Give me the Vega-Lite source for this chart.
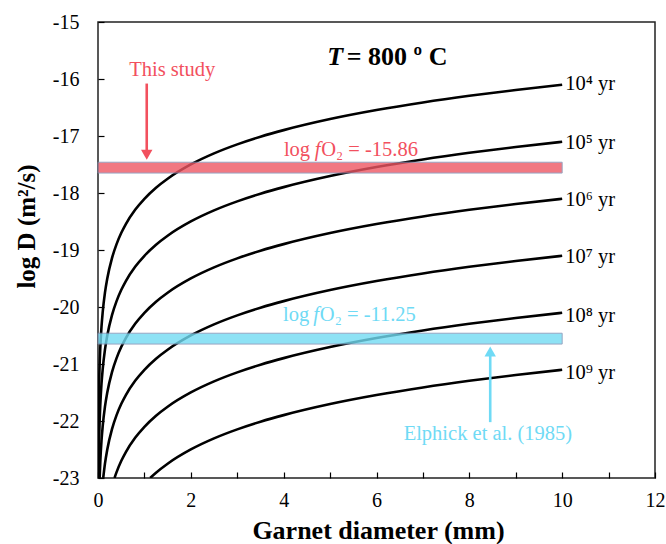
{
  "$schema": "https://vega.github.io/schema/vega-lite/v6.json",
  "width": 557,
  "height": 456,
  "autosize": {"type": "none"},
  "padding": {"left": 98, "top": 22, "right": 11, "bottom": 66},
  "background": "white",
  "config": {
    "view": {"stroke": "#222", "strokeWidth": 1.5},
    "font": "Liberation Serif",
    "axis": {"grid": false, "domain": false, "labelFont": "Liberation Serif", "titleFont": "Liberation Serif", "labelColor": "#000", "titleColor": "#000", "tickColor": "#000", "tickWidth": 1.2}
  },
  "layer": [
    {
      "data": {"values": [
        {"n": 4, "d": 0.00355, "logD": -23}, {"n": 4, "d": 0.005, "logD": -22.703}, {"n": 4, "d": 0.01, "logD": -22.101}, {"n": 4, "d": 0.02, "logD": -21.499}, {"n": 4, "d": 0.03, "logD": -21.147}, {"n": 4, "d": 0.05, "logD": -20.703}, {"n": 4, "d": 0.075, "logD": -20.351}, {"n": 4, "d": 0.1, "logD": -20.101}, {"n": 4, "d": 0.15, "logD": -19.749}, {"n": 4, "d": 0.2, "logD": -19.499}, {"n": 4, "d": 0.3, "logD": -19.147}, {"n": 4, "d": 0.4, "logD": -18.897}, {"n": 4, "d": 0.5, "logD": -18.703}, {"n": 4, "d": 0.6, "logD": -18.545}, {"n": 4, "d": 0.8, "logD": -18.295}, {"n": 4, "d": 1, "logD": -18.101}, {"n": 4, "d": 1.25, "logD": -17.907}, {"n": 4, "d": 1.5, "logD": -17.749}, {"n": 4, "d": 2, "logD": -17.499}, {"n": 4, "d": 2.5, "logD": -17.305}, {"n": 4, "d": 3, "logD": -17.147}, {"n": 4, "d": 3.5, "logD": -17.013}, {"n": 4, "d": 4, "logD": -16.897}, {"n": 4, "d": 5, "logD": -16.703}, {"n": 4, "d": 6, "logD": -16.545}, {"n": 4, "d": 7, "logD": -16.411}, {"n": 4, "d": 8, "logD": -16.295}, {"n": 4, "d": 9, "logD": -16.193}, {"n": 4, "d": 10, "logD": -16.101},
        {"n": 5, "d": 0.01124, "logD": -23}, {"n": 5, "d": 0.02, "logD": -22.499}, {"n": 5, "d": 0.03, "logD": -22.147}, {"n": 5, "d": 0.05, "logD": -21.703}, {"n": 5, "d": 0.075, "logD": -21.351}, {"n": 5, "d": 0.1, "logD": -21.101}, {"n": 5, "d": 0.15, "logD": -20.749}, {"n": 5, "d": 0.2, "logD": -20.499}, {"n": 5, "d": 0.3, "logD": -20.147}, {"n": 5, "d": 0.4, "logD": -19.897}, {"n": 5, "d": 0.5, "logD": -19.703}, {"n": 5, "d": 0.6, "logD": -19.545}, {"n": 5, "d": 0.8, "logD": -19.295}, {"n": 5, "d": 1, "logD": -19.101}, {"n": 5, "d": 1.25, "logD": -18.907}, {"n": 5, "d": 1.5, "logD": -18.749}, {"n": 5, "d": 2, "logD": -18.499}, {"n": 5, "d": 2.5, "logD": -18.305}, {"n": 5, "d": 3, "logD": -18.147}, {"n": 5, "d": 3.5, "logD": -18.013}, {"n": 5, "d": 4, "logD": -17.897}, {"n": 5, "d": 5, "logD": -17.703}, {"n": 5, "d": 6, "logD": -17.545}, {"n": 5, "d": 7, "logD": -17.411}, {"n": 5, "d": 8, "logD": -17.295}, {"n": 5, "d": 9, "logD": -17.193}, {"n": 5, "d": 10, "logD": -17.101},
        {"n": 6, "d": 0.03554, "logD": -23}, {"n": 6, "d": 0.05, "logD": -22.703}, {"n": 6, "d": 0.075, "logD": -22.351}, {"n": 6, "d": 0.1, "logD": -22.101}, {"n": 6, "d": 0.15, "logD": -21.749}, {"n": 6, "d": 0.2, "logD": -21.499}, {"n": 6, "d": 0.3, "logD": -21.147}, {"n": 6, "d": 0.4, "logD": -20.897}, {"n": 6, "d": 0.5, "logD": -20.703}, {"n": 6, "d": 0.6, "logD": -20.545}, {"n": 6, "d": 0.8, "logD": -20.295}, {"n": 6, "d": 1, "logD": -20.101}, {"n": 6, "d": 1.25, "logD": -19.907}, {"n": 6, "d": 1.5, "logD": -19.749}, {"n": 6, "d": 2, "logD": -19.499}, {"n": 6, "d": 2.5, "logD": -19.305}, {"n": 6, "d": 3, "logD": -19.147}, {"n": 6, "d": 3.5, "logD": -19.013}, {"n": 6, "d": 4, "logD": -18.897}, {"n": 6, "d": 5, "logD": -18.703}, {"n": 6, "d": 6, "logD": -18.545}, {"n": 6, "d": 7, "logD": -18.411}, {"n": 6, "d": 8, "logD": -18.295}, {"n": 6, "d": 9, "logD": -18.193}, {"n": 6, "d": 10, "logD": -18.101},
        {"n": 7, "d": 0.1124, "logD": -23}, {"n": 7, "d": 0.15, "logD": -22.749}, {"n": 7, "d": 0.2, "logD": -22.499}, {"n": 7, "d": 0.3, "logD": -22.147}, {"n": 7, "d": 0.4, "logD": -21.897}, {"n": 7, "d": 0.5, "logD": -21.703}, {"n": 7, "d": 0.6, "logD": -21.545}, {"n": 7, "d": 0.8, "logD": -21.295}, {"n": 7, "d": 1, "logD": -21.101}, {"n": 7, "d": 1.25, "logD": -20.907}, {"n": 7, "d": 1.5, "logD": -20.749}, {"n": 7, "d": 2, "logD": -20.499}, {"n": 7, "d": 2.5, "logD": -20.305}, {"n": 7, "d": 3, "logD": -20.147}, {"n": 7, "d": 3.5, "logD": -20.013}, {"n": 7, "d": 4, "logD": -19.897}, {"n": 7, "d": 5, "logD": -19.703}, {"n": 7, "d": 6, "logD": -19.545}, {"n": 7, "d": 7, "logD": -19.411}, {"n": 7, "d": 8, "logD": -19.295}, {"n": 7, "d": 9, "logD": -19.193}, {"n": 7, "d": 10, "logD": -19.101},
        {"n": 8, "d": 0.3554, "logD": -23}, {"n": 8, "d": 0.4, "logD": -22.897}, {"n": 8, "d": 0.5, "logD": -22.703}, {"n": 8, "d": 0.6, "logD": -22.545}, {"n": 8, "d": 0.8, "logD": -22.295}, {"n": 8, "d": 1, "logD": -22.101}, {"n": 8, "d": 1.25, "logD": -21.907}, {"n": 8, "d": 1.5, "logD": -21.749}, {"n": 8, "d": 2, "logD": -21.499}, {"n": 8, "d": 2.5, "logD": -21.305}, {"n": 8, "d": 3, "logD": -21.147}, {"n": 8, "d": 3.5, "logD": -21.013}, {"n": 8, "d": 4, "logD": -20.897}, {"n": 8, "d": 5, "logD": -20.703}, {"n": 8, "d": 6, "logD": -20.545}, {"n": 8, "d": 7, "logD": -20.411}, {"n": 8, "d": 8, "logD": -20.295}, {"n": 8, "d": 9, "logD": -20.193}, {"n": 8, "d": 10, "logD": -20.101},
        {"n": 9, "d": 1.124, "logD": -23}, {"n": 9, "d": 1.25, "logD": -22.907}, {"n": 9, "d": 1.5, "logD": -22.749}, {"n": 9, "d": 2, "logD": -22.499}, {"n": 9, "d": 2.5, "logD": -22.305}, {"n": 9, "d": 3, "logD": -22.147}, {"n": 9, "d": 3.5, "logD": -22.013}, {"n": 9, "d": 4, "logD": -21.897}, {"n": 9, "d": 5, "logD": -21.703}, {"n": 9, "d": 6, "logD": -21.545}, {"n": 9, "d": 7, "logD": -21.411}, {"n": 9, "d": 8, "logD": -21.295}, {"n": 9, "d": 9, "logD": -21.193}, {"n": 9, "d": 10, "logD": -21.101}
      ]},
      "mark": {"type": "line", "color": "#000", "strokeWidth": 2.6, "interpolate": "monotone", "clip": true},
      "encoding": {
        "x": {"field": "d", "type": "quantitative", "scale": {"domain": [0, 12], "nice": false, "zero": false},
          "axis": {"values": [0,1,2,3,4,5,6,7,8,9,10,11,12], "labelExpr": "datum.value % 2 === 0 ? '' + datum.value : ''", "tickSize": -6, "labelPadding": 18, "labelFontSize": 20, "labelFlush": false,
            "title": "Garnet diameter (mm)", "titleFontSize": 26, "titleFontWeight": "bold", "titleX": 280, "titleY": 52, "titleBaseline": "middle", "titleAlign": "center"}},
        "y": {"field": "logD", "type": "quantitative", "scale": {"domain": [-23, -15], "nice": false, "zero": false},
          "axis": {"values": [-23,-22,-21,-20,-19,-18,-17,-16,-15], "labelExpr": "'' + datum.value", "tickSize": -6, "labelPadding": 25, "labelFontSize": 20, "labelFlush": false,
            "title": "log D (m²/s)", "titleFontSize": 25, "titleFontWeight": "bold", "titleX": -72, "titleY": 204, "titleBaseline": "middle", "titleAlign": "center", "titleAngle": -90}},
        "detail": {"field": "n", "type": "nominal"}
      }
    },
    {
      "data": {"values": [
        {"band": "this", "x": 0, "x2": 10, "y": -17.46, "y2": -17.65},
        {"band": "elphick", "x": 0, "x2": 10, "y": -20.46, "y2": -20.65}
      ]},
      "mark": {"type": "rect", "opacity": 0.8, "stroke": "#7f8fb3", "strokeWidth": 1, "strokeOpacity": 1},
      "encoding": {
        "x": {"field": "x", "type": "quantitative"},
        "x2": {"field": "x2"},
        "y": {"field": "y", "type": "quantitative"},
        "y2": {"field": "y2"},
        "fill": {"field": "band", "type": "nominal", "scale": {"domain": ["this", "elphick"], "range": ["#ee5764", "#72dcf3"]}, "legend": null}
      }
    },
    {
      "data": {"values": [
        {"who": "this", "x": 1.05, "y": -16.08, "y2": -17.3},
        {"who": "elphick", "x": 8.45, "y": -22.02, "y2": -20.82}
      ]},
      "mark": {"type": "rule", "strokeWidth": 2.6},
      "encoding": {
        "x": {"field": "x", "type": "quantitative"},
        "y": {"field": "y", "type": "quantitative"},
        "y2": {"field": "y2"},
        "color": {"field": "who", "type": "nominal", "scale": {"domain": ["this", "elphick"], "range": ["#f2505e", "#6fdaf5"]}, "legend": null}
      }
    },
    {
      "data": {"values": [
        {"who": "this", "x": 1.05, "y": -17.33, "shape": "triangle-down"},
        {"who": "elphick", "x": 8.45, "y": -20.78, "shape": "triangle-up"}
      ]},
      "mark": {"type": "point", "filled": true, "size": 130, "opacity": 1},
      "encoding": {
        "x": {"field": "x", "type": "quantitative"},
        "y": {"field": "y", "type": "quantitative"},
        "shape": {"field": "shape", "type": "nominal", "scale": null},
        "color": {"field": "who", "type": "nominal", "scale": {"domain": ["this", "elphick"], "range": ["#f2505e", "#6fdaf5"]}, "legend": null}
      }
    },
    {
      "data": {"values": [
        {"label": "10⁴ yr", "x": 10, "y": -16.08},
        {"label": "10⁵ yr", "x": 10, "y": -17.13},
        {"label": "10⁶ yr", "x": 10, "y": -18.13},
        {"label": "10⁷ yr", "x": 10, "y": -19.12},
        {"label": "10⁸ yr", "x": 10, "y": -20.15},
        {"label": "10⁹ yr", "x": 10, "y": -21.15}
      ]},
      "mark": {"type": "text", "align": "left", "baseline": "middle", "dx": 3, "fontSize": 20.5, "font": "Liberation Serif", "color": "#000"},
      "encoding": {
        "x": {"field": "x", "type": "quantitative"},
        "y": {"field": "y", "type": "quantitative"},
        "text": {"field": "label"}
      }
    },
    {
      "data": {"values": [
        {"who": "this", "text": "This study", "x": 1.6, "y": -15.85},
        {"who": "elphick", "text": "Elphick et al. (1985)", "x": 8.4, "y": -22.22}
      ]},
      "mark": {"type": "text", "align": "center", "baseline": "middle", "fontSize": 20.5, "font": "Liberation Serif"},
      "encoding": {
        "x": {"field": "x", "type": "quantitative"},
        "y": {"field": "y", "type": "quantitative"},
        "text": {"field": "text"},
        "color": {"field": "who", "type": "nominal", "scale": {"domain": ["this", "elphick"], "range": ["#f2505e", "#6fdaf5"]}, "legend": null}
      }
    },
    {
      "data": {"values": [
        {"who": "this", "text": "log", "x": 4.57, "y": -17.25},
        {"who": "elphick", "text": "log", "x": 4.55, "y": -20.14}
      ]},
      "mark": {"type": "text", "align": "right", "baseline": "middle", "fontSize": 20.5, "font": "Liberation Serif"},
      "encoding": {
        "x": {"field": "x", "type": "quantitative"},
        "y": {"field": "y", "type": "quantitative"},
        "text": {"field": "text"},
        "color": {"field": "who", "type": "nominal", "scale": {"domain": ["this", "elphick"], "range": ["#f2505e", "#6fdaf5"]}, "legend": null}
      }
    },
    {
      "data": {"values": [
        {"who": "this", "text": "f", "x": 4.67, "y": -17.25},
        {"who": "elphick", "text": "f", "x": 4.64, "y": -20.14}
      ]},
      "mark": {"type": "text", "align": "left", "baseline": "middle", "fontSize": 20.5, "font": "Liberation Serif", "fontStyle": "italic"},
      "encoding": {
        "x": {"field": "x", "type": "quantitative"},
        "y": {"field": "y", "type": "quantitative"},
        "text": {"field": "text"},
        "color": {"field": "who", "type": "nominal", "scale": {"domain": ["this", "elphick"], "range": ["#f2505e", "#6fdaf5"]}, "legend": null}
      }
    },
    {
      "data": {"values": [
        {"who": "this", "text": "O₂ = -15.86", "x": 4.81, "y": -17.25},
        {"who": "elphick", "text": "O₂ = -11.25", "x": 4.78, "y": -20.14}
      ]},
      "mark": {"type": "text", "align": "left", "baseline": "middle", "fontSize": 20.5, "font": "Liberation Serif"},
      "encoding": {
        "x": {"field": "x", "type": "quantitative"},
        "y": {"field": "y", "type": "quantitative"},
        "text": {"field": "text"},
        "color": {"field": "who", "type": "nominal", "scale": {"domain": ["this", "elphick"], "range": ["#f2505e", "#6fdaf5"]}, "legend": null}
      }
    },
    {
      "data": {"values": [{"text": "T", "x": 5.28, "y": -15.61}]},
      "mark": {"type": "text", "align": "right", "baseline": "middle", "fontSize": 26, "font": "Liberation Serif", "fontWeight": "bold", "fontStyle": "italic", "color": "#000"},
      "encoding": {
        "x": {"field": "x", "type": "quantitative"},
        "y": {"field": "y", "type": "quantitative"},
        "text": {"field": "text"}
      }
    },
    {
      "data": {"values": [{"text": "= 800 º C", "x": 5.36, "y": -15.61}]},
      "mark": {"type": "text", "align": "left", "baseline": "middle", "fontSize": 26, "font": "Liberation Serif", "fontWeight": "bold", "color": "#000"},
      "encoding": {
        "x": {"field": "x", "type": "quantitative"},
        "y": {"field": "y", "type": "quantitative"},
        "text": {"field": "text"}
      }
    }
  ]
}
